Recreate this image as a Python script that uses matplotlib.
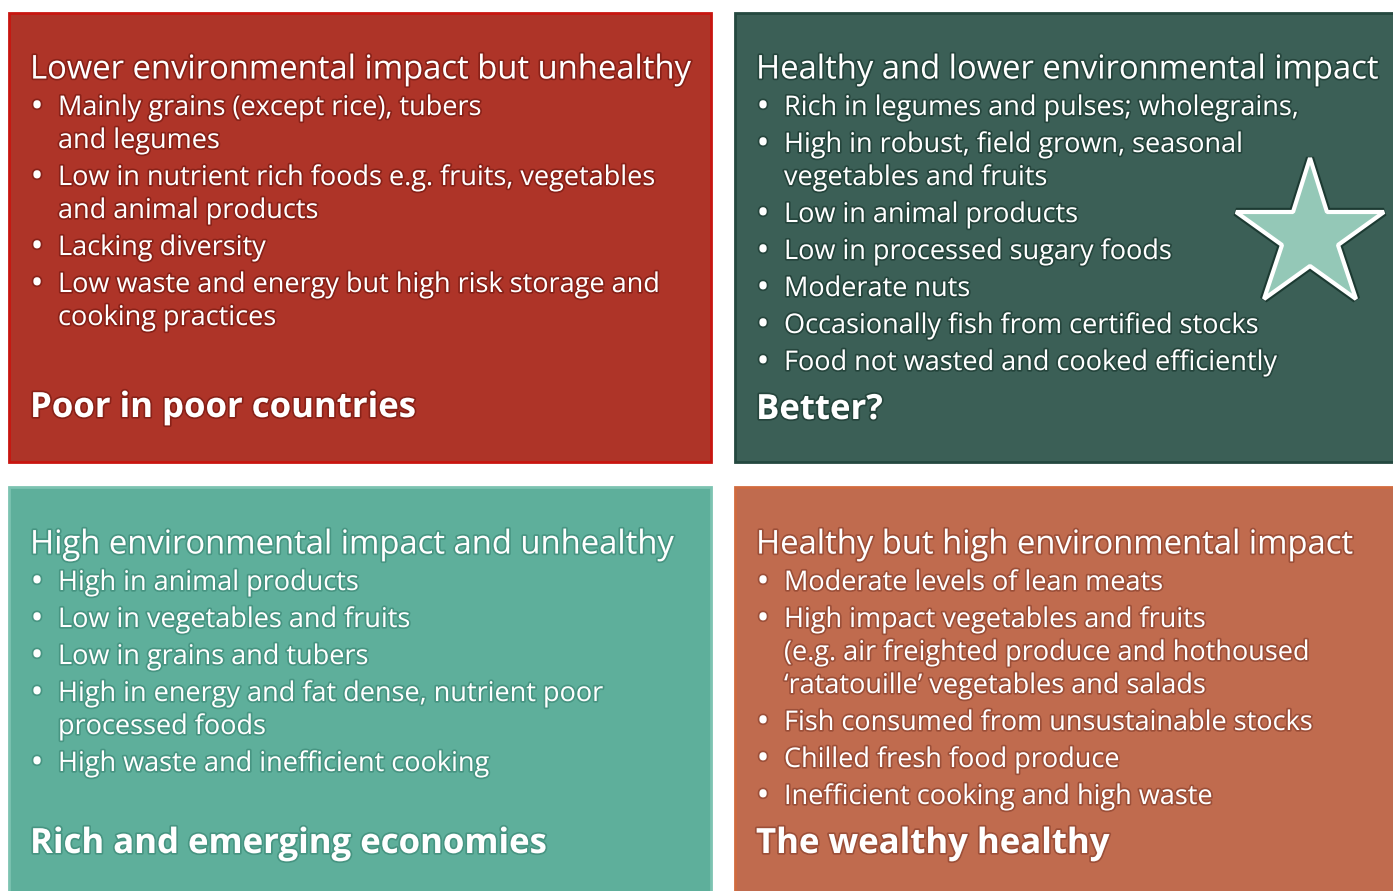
import numpy as np
import matplotlib.pyplot as plt
import matplotlib.patheffects as pe
from matplotlib.patches import Rectangle

plt.rcParams['font.family'] = ['Open Sans', 'DejaVu Sans']

# quadrant contents
titles = ["Lower environmental impact but unhealthy",
          "Healthy and lower environmental impact",
          "High environmental impact and unhealthy",
          "Healthy but high environmental impact"]

footers = ["Poor in poor countries",
           "Better?",
           "Rich and emerging economies",
           "The wealthy healthy"]

bullets_tl = [["Mainly grains (except rice), tubers", "and legumes"],
              ["Low in nutrient rich foods e.g. fruits, vegetables", "and animal products"],
              ["Lacking diversity"],
              ["Low waste and energy but high risk storage and", "cooking practices"]]
bullets_tr = [["Rich in legumes and pulses; wholegrains,"],
              ["High in robust, field grown, seasonal", "vegetables and fruits"],
              ["Low in animal products"],
              ["Low in processed sugary foods"],
              ["Moderate nuts"],
              ["Occasionally fish from certified stocks"],
              ["Food not wasted and cooked efficiently"]]
bullets_bl = [["High in animal products"],
              ["Low in vegetables and fruits"],
              ["Low in grains and tubers"],
              ["High in energy and fat dense, nutrient poor", "processed foods"],
              ["High waste and inefficient cooking"]]
bullets_br = [["Moderate levels of lean meats"],
              ["High impact vegetables and fruits", "(e.g. air freighted produce and hothoused",
               "\u2018ratatouille\u2019 vegetables and salads"],
              ["Fish consumed from unsustainable stocks"],
              ["Chilled fresh food produce"],
              ["Inefficient cooking and high waste"]]
bullets = [bullets_tl, bullets_tr, bullets_bl, bullets_br]

fills = ["#AE3428", "#3B5F56", "#5EAF9B", "#C06B4E"]
edges = ["#C8150F", "#24483F", "#7CC3B1", "#D06A3E"]
glows = ["#7A1A12", "#1C3A32", "#3E8A78", "#8E4430"]

# layout in pixels
boxes = [(9, 13, 711, 462), (735, 13, 1400, 462),
         (9, 487, 711, 900), (735, 487, 1400, 900)]
title_y = [70, 70, 545, 545]
footer_y = [408, 410, 844, 844]

fig = plt.figure(figsize=(13.93, 8.91), dpi=100)
ax = fig.add_axes([0, 0, 1, 1])
ax.set_xlim(0, 1393)
ax.set_ylim(891, 0)
ax.axis('off')

for i in range(4):
    x0, y0, x1, y1 = boxes[i]
    ax.add_patch(Rectangle((x0, y0), x1 - x0, y1 - y0, facecolor=fills[i],
                           edgecolor=edges[i], linewidth=2))
    glow = [pe.withStroke(linewidth=2.5, foreground=glows[i], alpha=0.7)]
    tx = x0 + 21
    ax.text(tx, title_y[i], titles[i], fontsize=23.6, color='white',
            va='center', ha='left', path_effects=glow)
    y = title_y[i] + 38
    for b in bullets[i]:
        ax.text(tx + 7, y, "\u2022", fontsize=25, color='white',
                va='center', ha='center', path_effects=glow)
        for line in b:
            ax.text(tx + 28, y, line, fontsize=19.5, color='white',
                    va='center', ha='left', path_effects=glow)
            y += 33
        y += 4
    ax.text(tx, footer_y[i], footers[i], fontsize=25, fontweight='bold',
            color='white', va='center', ha='left', path_effects=glow)

# star in the "better" quadrant
ax.plot([1310], [236], marker='*', markersize=112, markerfacecolor='#94C8B7',
        markeredgecolor='white', markeredgewidth=3,
        path_effects=[pe.withStroke(linewidth=6, foreground='#1C3A32')])

fig.savefig('out.png', dpi=100, facecolor='white')
